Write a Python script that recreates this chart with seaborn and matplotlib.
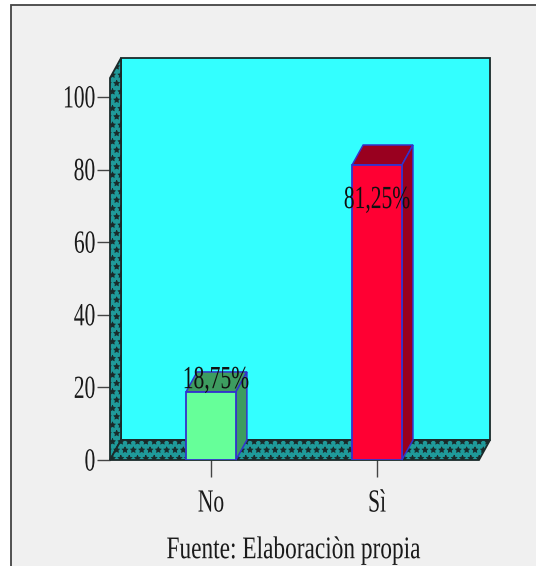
import matplotlib
matplotlib.use("Agg")
import matplotlib.pyplot as plt
import matplotlib.patheffects as pe
from matplotlib.patches import Polygon, Rectangle
from matplotlib.transforms import Affine2D
import seaborn as sns

categories = ["No", "Sì"]
percentages = [18.75, 81.25]
value_labels = ["18,75%", "81,25%"]
y_ticks = [0, 20, 40, 60, 80, 100]
caption = "Fuente: Elaboraciòn propia"

W, H = 536, 566
FONT = "Liberation Serif"
INK = "#1a1a1a"
WALL = "#33ffff"
TEAL = "#1f9a9a"
EDGE = "#3333cc"
FRONT = ["#66ff99", "#ff0033"]
SHADE = ["#3d9c60", "#99001f"]

# Extrusion of the box and bars, in data units
DX, DY = 0.0663, 5.5
X0, X1 = -0.608, 1.614
Y_MAX = 105.2
BAR_W = 0.30


class TallGlyphs(pe.AbstractPathEffect):
    """Stretch glyph outlines vertically to get a condensed-looking face."""

    def __init__(self, k=1.5, pivot=33):
        super().__init__()
        self.k, self.pivot = k, pivot

    def draw_path(self, renderer, gc, tpath, affine, rgbFace=None):
        stretch = Affine2D().translate(0, -self.pivot).scale(1, self.k).translate(0, self.pivot)
        renderer.draw_path(gc, tpath, stretch + affine, rgbFace)


tall = [TallGlyphs()]

sns.set_style("white")
plt.rcParams["font.family"] = [FONT, "DejaVu Serif"]
plt.rcParams["hatch.linewidth"] = 0.6
plt.rcParams["hatch.color"] = "#0a3f3f"

fig = plt.figure(figsize=(W / 100, H / 100), dpi=100, facecolor="white")
fig.add_artist(Rectangle((11 / W, -0.02), 1.02, 1.02 - 5 / H, transform=fig.transFigure,
                         facecolor="#f0f0f0", edgecolor="#444444", lw=1.3, zorder=-5))

ax = fig.add_axes([110 / W, 1 - 460 / H, 369 / W, 382 / H])
ax.patch.set_visible(False)

sns.barplot(x=categories, y=percentages, hue=categories, palette=FRONT, legend=False,
            width=BAR_W, saturation=1, edgecolor=EDGE, linewidth=1.3, ax=ax, zorder=3)

ax.set_xlim(X0, X1)
ax.set_ylim(0, Y_MAX)
sns.despine(ax=ax, left=True, bottom=True)


def face(points, z, **kw):
    ax.add_patch(Polygon(points, closed=True, clip_on=False, zorder=z, **kw))


# Box: back wall, left wall and floor
box = dict(edgecolor="#1a2a2a", lw=1.3)
face([(X0 + DX, DY), (X1 + DX, DY), (X1 + DX, Y_MAX + DY), (X0 + DX, Y_MAX + DY)], 0.5,
     facecolor=WALL, **box)
face([(X0, 0), (X0 + DX, DY), (X0 + DX, Y_MAX + DY), (X0, Y_MAX)], 0.6,
     facecolor=TEAL, hatch="**", **box)
face([(X0, 0), (X1, 0), (X1 + DX, DY), (X0 + DX, DY)], 0.6,
     facecolor=TEAL, hatch="**", **box)

# Bar top and side faces
for i, v in enumerate(percentages):
    a, b = i - BAR_W / 2, i + BAR_W / 2
    style = dict(facecolor=SHADE[i], edgecolor=EDGE, lw=1.1)
    face([(a, v), (b, v), (b + DX, v + DY), (a + DX, v + DY)], 2, **style)
    face([(b, 0), (b + DX, DY), (b + DX, v + DY), (b, v)], 2, **style)

ax.set_yticks(y_ticks)
ax.set_xticks(range(len(categories)), categories)
ax.tick_params(axis="y", length=9.5, width=1, color="#444444", left=True, labelsize=15.5,
               labelcolor=INK, pad=1)
ax.tick_params(axis="x", length=12.5, width=1, color="#444444", bottom=True, labelsize=15.5,
               labelcolor=INK, pad=12)
for lab in ax.get_xticklabels() + ax.get_yticklabels():
    lab.set_path_effects(tall)

label_pos = [(0.03, 22.0), (1.0, 71.6)]
for (x, y), s in zip(label_pos, value_labels):
    ax.text(x, y, s, ha="center", va="center", fontsize=15.5, color="#101010",
            path_effects=tall, zorder=6)

fig.text(294 / W, 1 - 550 / H, caption, ha="center", va="center", fontsize=16.8, color=INK,
         path_effects=[TallGlyphs(k=1.35)])

fig.savefig("out.png", dpi=100)
